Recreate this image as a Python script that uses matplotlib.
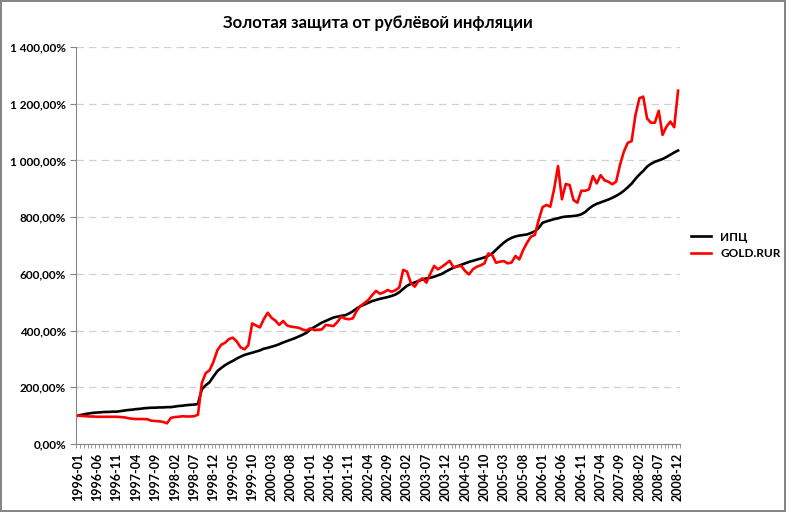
import numpy as np
import pandas as pd
from matplotlib import pyplot as plt
from matplotlib.ticker import FuncFormatter, FixedLocator

plt.rcParams['font.family'] = ['Lato', 'DejaVu Sans']

# monthly index, 1996-01 = 100%
months = pd.period_range('1996-01', '2008-12', freq='M').strftime('%Y-%m').tolist()

cpi = [100, 103, 106, 108, 110, 111, 112, 113, 113, 114, 114, 116,
       118, 120, 121, 123, 124, 126, 127, 128, 128, 129, 129, 130,
       130, 132, 134, 135, 137, 138, 139, 141, 193, 207, 218, 238,
       257, 268, 278, 286, 293, 301, 308, 314, 318, 322, 326, 330,
       336, 339, 343, 347, 352, 358, 363, 368, 373, 379, 385, 392,
       403, 412, 420, 428, 434, 440, 446, 449, 452, 454, 460, 468,
       478, 486, 492, 498, 504, 508, 512, 515, 518, 522, 527, 535,
       547, 558, 565, 570, 575, 580, 584, 586, 590, 595, 600, 608,
       615, 622, 627, 632, 637, 642, 646, 650, 654, 658, 664, 672,
       685, 698, 710, 720, 727, 732, 735, 737, 739, 744, 750, 762,
       780, 785, 789, 793, 796, 800, 802, 803, 804, 806, 810, 818,
       830, 840, 847, 852, 857, 862, 868, 875, 883, 893, 905, 918,
       935, 950, 963, 978, 988, 995, 1000, 1005, 1012, 1020, 1028, 1035]

gold = [100, 99, 98, 97, 97, 96, 96, 96, 96, 96, 96, 95,
        94, 91, 89, 88, 88, 88, 87, 82, 81, 80, 78, 73,
        92, 95, 96, 98, 97, 97, 98, 103, 215, 250, 260, 290,
        330, 350, 357, 370, 375, 362, 341, 334, 348, 425, 418, 411,
        440, 463, 445, 435, 420, 434, 418, 414, 412, 410, 404, 400,
        408, 402, 403, 404, 420, 418, 416, 430, 449, 442, 440, 443,
        470, 487, 497, 508, 525, 540, 530, 535, 543, 537, 542, 552,
        614, 608, 567, 555, 576, 584, 569, 600, 628, 616, 625, 635,
        646, 623, 626, 628, 610, 598, 616, 625, 630, 637, 672, 666,
        639, 643, 645, 637, 640, 663, 651, 684, 710, 731, 737, 790,
        835, 843, 837, 900, 980, 863, 917, 913, 860, 851, 893, 893,
        898, 945, 919, 948, 930, 925, 916, 925, 984, 1031, 1062, 1068,
        1160, 1219, 1225, 1148, 1133, 1133, 1175, 1090, 1119, 1137, 1117, 1246]

series_names = ['ИПЦ', 'GOLD.RUR']
series_colors = ['black', '#ff0000']

fig = plt.figure(figsize=(7.86, 5.12), dpi=100)
fig.patch.set_edgecolor('#868686')
fig.patch.set_linewidth(1.5)
ax = fig.add_axes([76/786, 68/512, 604/786, 397/512])

x = np.arange(len(months))
ax.plot(x, cpi, color=series_colors[0], lw=1.9, label=series_names[0])
ax.plot(x, gold, color=series_colors[1], lw=1.9, label=series_names[1])

ax.set_xlim(-0.5, len(months) - 0.5)
ax.set_ylim(0, 1400)
ax.set_yticks(range(0, 1401, 200))


def pct(v, pos):
    s = f'{v:,.2f}%'
    return s.replace(',', ' ').replace('.', ',')


ax.yaxis.set_major_formatter(FuncFormatter(pct))
ax.grid(axis='y', color='#d0d0d0', linestyle=(0, (6, 4)), lw=0.9)
ax.set_axisbelow(True)

ax.set_xticks(x[::5])
ax.set_xticklabels(months[::5], rotation=90, fontsize=9, fontweight='bold')
ax.xaxis.set_minor_locator(FixedLocator(np.arange(-0.5, len(months), 1)))
ax.tick_params(axis='x', which='major', length=0, pad=6)
ax.tick_params(axis='x', which='minor', length=3, color='#868686')
ax.tick_params(axis='y', length=4, color='#868686', labelsize=8.5, pad=3)
for t in ax.get_yticklabels():
    t.set_fontweight('bold')

for side in ['top', 'right']:
    ax.spines[side].set_visible(False)
for side in ['left', 'bottom']:
    ax.spines[side].set_color('#868686')

ax.set_title('Золотая защита от рублёвой инфляции', fontsize=12, fontweight='bold', pad=14)

leg = ax.legend(loc='center left', bbox_to_anchor=(1.0, 0.5), frameon=False,
                handlelength=1.7, prop={'weight': 'bold', 'size': 8.5})

fig.savefig('out.png', dpi=100, edgecolor=fig.get_edgecolor())
